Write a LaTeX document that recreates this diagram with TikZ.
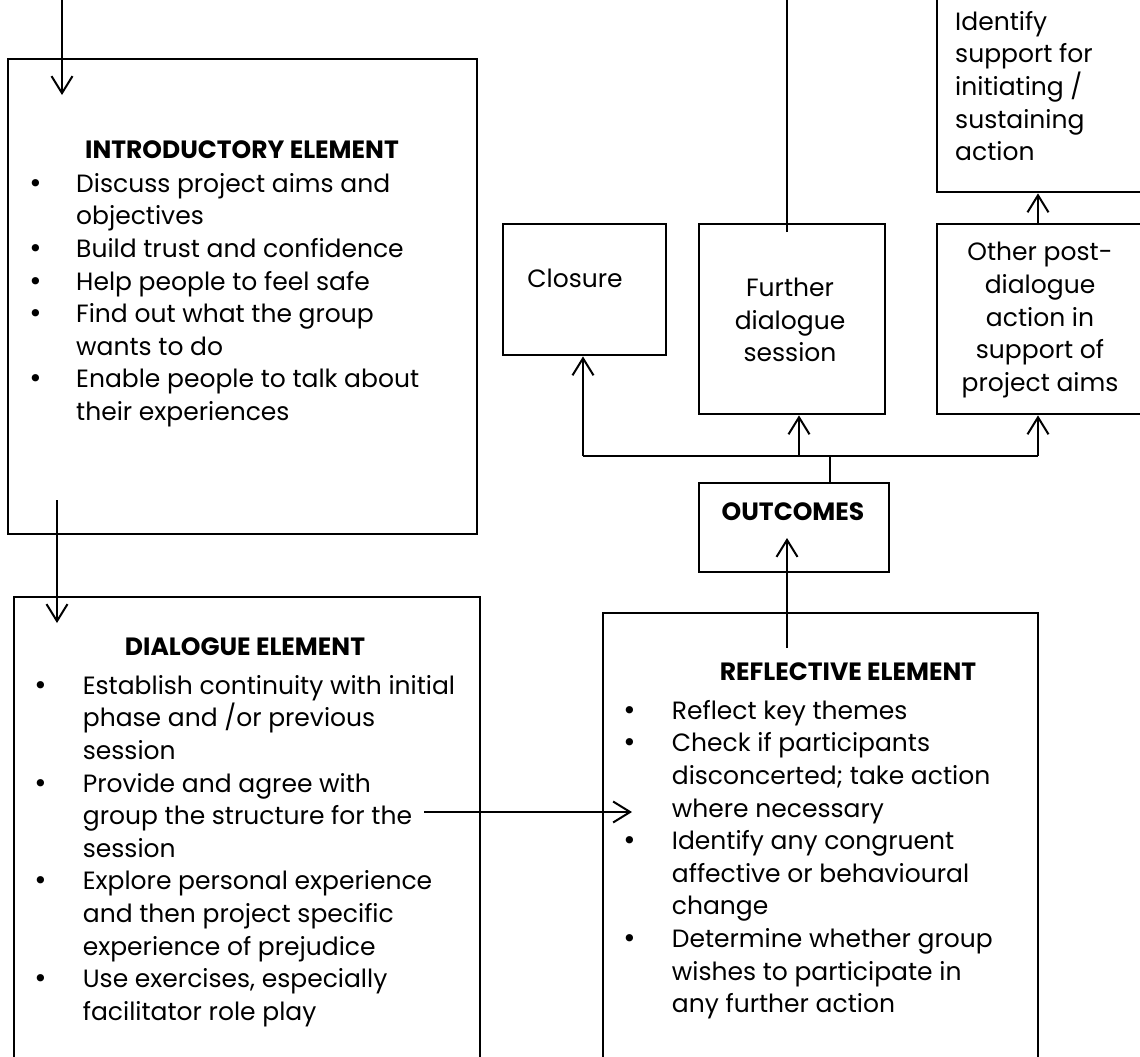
\documentclass[tikz,border=0pt]{standalone}
\usepackage{fontspec}
\setmainfont{Poppins}
\newfontfamily\bulletfont{DejaVu Sans}
\usetikzlibrary{arrows.meta}
\newcommand{\bi}[1][48pt]{\makebox[#1][l]{\bulletfont •}}
\newcommand{\ii}[1][48pt]{\hspace*{#1}}
\begin{document}
\begin{tikzpicture}[x=1pt,y=-1pt,
  box/.style={draw, line width=2.4pt, rectangle, inner sep=0pt, anchor=north west},
  arr/.style={line width=2.4pt, -{Straight Barb[length=17pt,width=21pt,line width=2pt]}},
  ln/.style={line width=2.4pt},
  ttl/.style={font=\bfseries\fontsize{25}{30}\selectfont, inner sep=0pt},
  lst/.style={font=\fontsize{25}{32.6}\selectfont, align=left, inner sep=0pt, anchor=north west},
  txt/.style={font=\fontsize{25}{32.6}\selectfont, align=center, inner sep=0pt}]
\useasboundingbox (0,0) rectangle (1140,1057);
\clip (0,0) rectangle (1140,1057);
\fill[white] (0,0) rectangle (1140,1057);

% boxes
\node[box, minimum width=469pt, minimum height=475pt] (intro) at (7,58) {};
\node[box, minimum width=466pt, minimum height=520pt] (dial) at (13,596) {};
\node[box, minimum width=435pt, minimum height=520pt] (refl) at (602,612) {};
\node[box, minimum width=190pt, minimum height=89pt] (outc) at (698,482) {};
\node[box, minimum width=163pt, minimum height=131pt] (clos) at (502,223) {};
\node[box, minimum width=186pt, minimum height=190pt] (furt) at (698,223) {};
\node[box, minimum width=250pt, minimum height=190pt] (othr) at (936,223) {};
\node[box, minimum width=250pt, minimum height=241pt] (ident) at (936,-50) {};

% texts
\node[ttl] (introT) at (242,150) {INTRODUCTORY ELEMENT};
\node[lst] (introL) at (28,173) {\bi Discuss project aims and\\
\ii objectives\\
\bi Build trust and confidence\\
\bi Help people to feel safe\\
\bi Find out what the group\\
\ii wants to do\\
\bi Enable people to talk about\\
\ii their experiences};

\node[ttl] (dialT) at (245,647) {DIALOGUE ELEMENT};
\node[lst] (dialL) at (33,675) {\bi[43pt] Establish continuity with initial\\
\ii[43pt] phase and /or previous\\
\ii[43pt] session\\
\bi[43pt] Provide and agree with\\
\ii[43pt] group the structure for the\\
\ii[43pt] session\\
\bi[43pt] Explore personal experience\\
\ii[43pt] and then project specific\\
\ii[43pt] experience of prejudice\\
\bi[43pt] Use exercises, especially\\
\ii[43pt] facilitator role play};

\node[ttl] (reflT) at (848,672) {REFLECTIVE ELEMENT};
\node[lst] (reflL) at (622,700) {\bi[43pt] Reflect key themes\\
\bi[43pt] Check if participants\\
\ii[43pt] disconcerted; take action\\
\ii[43pt] where necessary\\
\bi[43pt] Identify any congruent\\
\ii[43pt] affective or behavioural\\
\ii[43pt] change\\
\bi[43pt] Determine whether group\\
\ii[43pt] wishes to participate in\\
\ii[43pt] any further action};

\node[ttl] (outcT) at (793,512) {OUTCOMES};
\node[txt] (closT) at (575,278) {Closure};
\node[txt] (furtT) at (790,320) {Further\\dialogue\\session};
\node[txt] (othrT) at (1040,320) {Other post-\\dialogue\\action in\\support of\\project aims};
\node[lst] (identT) at (955,11) {Identify\\support for\\initiating /\\sustaining\\action};

% connector end points
\coordinate (inTop) at (62,0);
\coordinate (inEnd) at (62,95);
\coordinate (idStart) at (57,500);
\coordinate (idEnd) at (57,623);
\coordinate (drStart) at (424,812);
\coordinate (drEnd) at (632,812);
\coordinate (roStart) at (787,648);
\coordinate (roEnd) at (787,538);
\coordinate (busL) at (583,456);
\coordinate (busM) at (799,456);
\coordinate (busS) at (830,456);
\coordinate (busR) at (1038,456);
\coordinate (fuStart) at (787,232);
\coordinate (fuTop) at (787,0);

% connectors
\draw[arr] (inTop) -- (inEnd);
\draw[arr] (idStart) -- (idEnd);
\draw[arr] (drStart) -- (drEnd);
\draw[arr] (roStart) -- (roEnd);
\draw[ln] (outc.north -| busS) -- (busS);
\draw[ln] (busL) -- (busR);
\draw[arr] (busL) -- (clos.south -| busL);
\draw[arr] (busM) -- (furt.south -| busM);
\draw[arr] (busR) -- (othr.south -| busR);
\draw[arr] (othr.north -| busR) -- (ident.south -| busR);
\draw[ln] (fuStart) -- (fuTop);
\end{tikzpicture}
\end{document}
